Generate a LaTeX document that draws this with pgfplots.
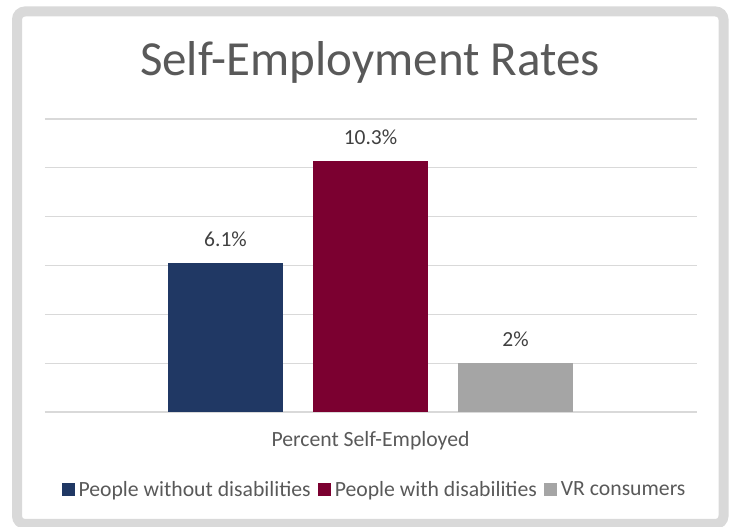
\documentclass[border=0pt]{standalone}
\usepackage{fontspec}
\setmainfont{Carlito}
\usepackage{pgfplots}
\pgfplotsset{compat=1.18}
\definecolor{cblue}{HTML}{203864}
\definecolor{cred}{HTML}{7B0030}
\definecolor{cgray}{HTML}{A5A5A5}
\definecolor{gridc}{HTML}{D9D9D9}
\definecolor{txt}{HTML}{595959}
\definecolor{lbl}{HTML}{404040}
\begin{document}
\begin{tikzpicture}[x=1pt,y=1pt]
\useasboundingbox (0,0) rectangle (732,527);
\draw[gridc, line width=10pt, rounded corners=8pt] (17,3) rectangle (723.5,515.5);
\node[txt, font=\fontsize{49}{57}\selectfont] at (370,465) {Self-Employment Rates};
\begin{axis}[
  at={(45pt,115pt)}, anchor=south west,
  scale only axis, width=652pt, height=293pt,
  ybar=30pt, bar width=115pt,
  xmin=-325.5, xmax=326.5, ymin=0, ymax=12,
  ytick={0,2,...,12}, yticklabel=\empty,
  ymajorgrids, grid style={gridc, line width=1.3pt},
  axis line style={draw=none}, major tick length=0pt,
  xtick={0}, xticklabels={Percent Self-Employed},
  xticklabel style={txt, font=\fontsize{21.7}{26}\selectfont, yshift=-16pt},
  nodes near coords={\pgfmathprintnumber[assume math mode=true]{\pgfplotspointmeta}\%},
  every node near coord/.append style={lbl, font=\fontsize{21.5}{26}\selectfont, inner sep=0pt, yshift=16pt},
  legend columns=3,
  legend style={at={(0.5,0)}, anchor=center, xshift=3pt, yshift=-77.5pt, draw=none, fill=none,
    font=\fontsize{21.7}{26}\selectfont, text=txt,
    /tikz/every odd column/.append style={column sep=3pt},
    /tikz/every even column/.append style={column sep=6pt},
    nodes={inner sep=1pt}},
  legend image code/.code={\fill[#1,draw=none] (0pt,-6.5pt) rectangle (13pt,6.5pt);},
]
\addplot[fill=cblue, draw=none] coordinates {(0,6.1)};
\addplot[fill=cred, draw=none] coordinates {(0,10.3)};
\addplot[fill=cgray, draw=none] coordinates {(0,2)};
\legend{People without disabilities, People with disabilities, VR consumers}
\end{axis}
\end{tikzpicture}
\end{document}
